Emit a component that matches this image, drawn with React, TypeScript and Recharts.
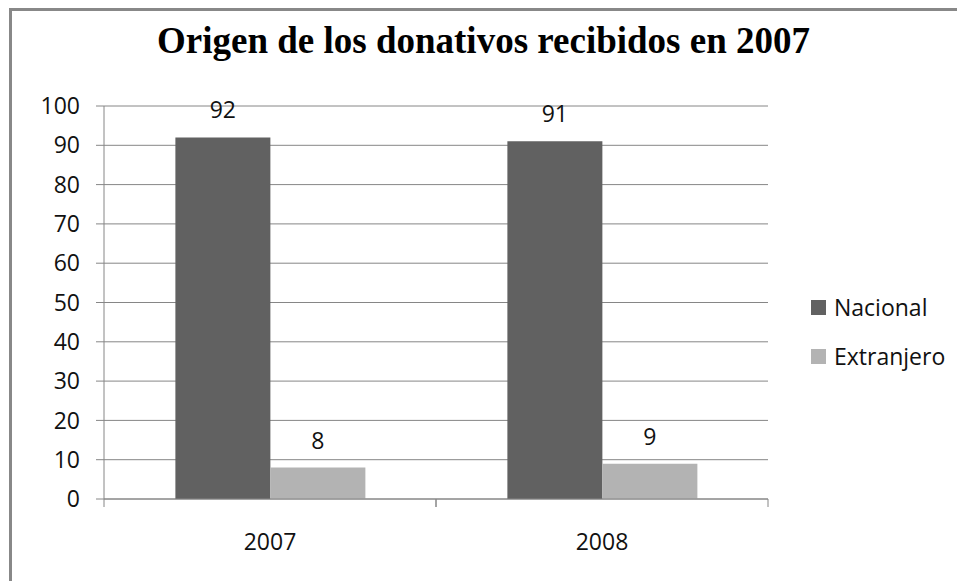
import React from 'react';
import { BarChart, Bar, XAxis, YAxis, CartesianGrid, Legend, LabelList } from 'recharts';

const title = 'Origen de los donativos recibidos en 2007';
const categories = ['2007', '2008'];
const nacional = [92, 91];
const extranjero = [8, 9];
const seriesNames = ['Nacional', 'Extranjero'];
const seriesColors = ['#616161', '#b3b3b3'];
const yTicks = [0, 10, 20, 30, 40, 50, 60, 70, 80, 90, 100];

const data = categories.map((c, i) => ({
  year: c,
  [seriesNames[0]]: nacional[i],
  [seriesNames[1]]: extranjero[i],
}));

const FONT = '"Open Sans", sans-serif';
const GRID = '#868686';
const X_TICK_MARGIN = 35;

const CategoryTick = (props: any) => {
  const { x, y, payload, width, visibleTicksCount } = props;
  const half = Number(width) / Number(visibleTicksCount || categories.length) / 2;
  const axisY = y - X_TICK_MARGIN;
  const ok = Number.isFinite(half);
  return (
    <g>
      {ok && <line x1={x - half} x2={x - half} y1={axisY} y2={axisY + 8} stroke={GRID} />}
      {ok && <line x1={x + half} x2={x + half} y1={axisY} y2={axisY + 8} stroke={GRID} />}
      <text x={x} y={y} dy="0.71em" textAnchor="middle" fill="#111" fontSize={23} fontFamily={FONT}>
        {payload.value}
      </text>
    </g>
  );
};

const renderLegend = (props: any) => {
  const payload = [...(props.payload || [])].sort(
    (a: any, b: any) => seriesNames.indexOf(a.value) - seriesNames.indexOf(b.value)
  );
  return (
    <div style={{ fontFamily: FONT, fontSize: 23, color: '#111' }}>
      {payload.map((entry: any) => (
        <div key={entry.value} style={{ display: 'flex', alignItems: 'center', height: 49 }}>
          <span style={{ display: 'inline-block', width: 15, height: 15, background: entry.color, marginRight: 8 }} />
          <span style={{ lineHeight: '23px' }}>{entry.value}</span>
        </div>
      ))}
    </div>
  );
};

export default function App() {
  return (
    <div style={{ position: 'absolute', left: 0, top: 0, width: 957, height: 581, background: '#fff', overflow: 'hidden' }}>
      <div style={{ position: 'absolute', left: 9, top: 8, width: 1200, height: 1200, borderLeft: '3px solid #888', borderTop: '3px solid #888' }} />
      <div style={{ position: 'absolute', left: 0, top: 22, width: 967, textAlign: 'center', fontFamily: '"Liberation Serif", serif', fontWeight: 'bold', fontSize: 37, lineHeight: '37px', color: '#000', whiteSpace: 'nowrap' }}>
        {title}
      </div>
      <div style={{ position: 'absolute', left: 0, top: 0 }}>
        <BarChart
          width={957}
          height={581}
          data={data}
          margin={{ top: 106, right: 189, bottom: 0, left: 44 }}
          barCategoryGap="21.5%"
          barGap={0}
          style={{ fontFamily: FONT }}
        >
          <CartesianGrid vertical={false} stroke={GRID} strokeWidth={1} />
          <XAxis
            dataKey="year"
            height={82}
            axisLine={{ stroke: GRID }}
            tickLine={false}
            tickSize={0}
            tickMargin={X_TICK_MARGIN}
            interval={0}
            tick={<CategoryTick />}
          />
          <YAxis
            domain={[0, 100]}
            ticks={yTicks}
            width={60}
            axisLine={{ stroke: GRID }}
            tickLine={{ stroke: GRID }}
            tickSize={8}
            tickMargin={16}
            interval={0}
            tick={{ fill: '#111', fontSize: 23, fontFamily: FONT }}
          />
          <Legend
            layout="vertical"
            align="center"
            verticalAlign="middle"
            content={renderLegend}
            wrapperStyle={{ left: 811, top: 283, width: 146 }}
          />
          {seriesNames.map((name, i) => (
            <Bar key={name} dataKey={name} fill={seriesColors[i]} isAnimationActive={false}>
              <LabelList dataKey={name} position="top" offset={19} fill="#111" fontSize={23} fontFamily={FONT} />
            </Bar>
          ))}
        </BarChart>
      </div>
    </div>
  );
}
